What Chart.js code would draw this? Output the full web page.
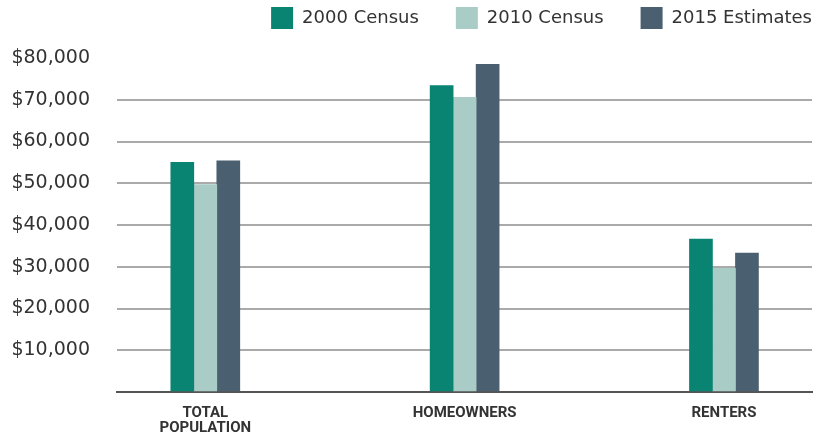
<!DOCTYPE html>
<html>
<head>
<meta charset="utf-8">
<script src="https://cdn.jsdelivr.net/npm/chart.js@4"></script>
<style>
  html, body { margin: 0; padding: 0; background: #fff; }
  #wrap { width: 825px; height: 436px; }
</style>
</head>
<body>
<div id="wrap"><canvas id="incomeChart"></canvas></div>
<script>
// data
const categories = [['TOTAL', 'POPULATION'], 'HOMEOWNERS', 'RENTERS'];
const seriesNames = ['2000 Census', '2010 Census', '2015 Estimates'];
const census2000 = [55000, 73400, 36600];
const census2010 = [49700, 70600, 29600];
const estimates2015 = [55400, 78500, 33300];
const yTicks = [0, 10000, 20000, 30000, 40000, 50000, 60000, 70000, 80000];

const colors = ['#0a8472', '#a9ccc6', '#4a5f70'];

// bars sit on a linear x axis so the groups can be placed off-centre like the original
const toPoints = arr => arr.map((v, i) => ({ x: i, y: v }));
const X_MIN = -0.3405, X_MAX = 2.3395;
const LEGEND_PAD = 37;

const incomeData = {
    datasets: [census2000, census2010, estimates2015].map((vals, i) => ({
        label: seriesNames[i],
        data: toPoints(vals),
        backgroundColor: colors[i],
        borderWidth: 0,
        barThickness: 23
    }))
};

// legend: fixed height, and pushed right so the last item ends at the plot edge
const legendFit = {
    id: 'legendFit',
    beforeInit(chart) {
        const fit = chart.legend.fit;
        chart.legend.fit = function () {
            fit.bind(chart.legend)();
            this.height = 88;
        };
    },
    afterLayout(chart) {
        chart.legend.right += LEGEND_PAD;
    }
};

const incomeConfig = {
    type: 'bar',
    data: incomeData,
    options: {
        responsive: true,
        maintainAspectRatio: false,
        animation: false,
        layout: {
            padding: { top: -30, right: 13, bottom: 0, left: 0 }
        },
        scales: {
            x: {
                type: 'linear',
                offset: false,
                bounds: 'data',
                min: X_MIN,
                max: X_MAX,
                afterFit: scale => { scale.height = 44; },
                afterDataLimits: scale => {
                    scale.min = X_MIN;
                    scale.max = X_MAX;
                },
                afterBuildTicks: scale => {
                    scale.ticks = categories.map((c, i) => ({ value: i }));
                    scale.min = X_MIN;
                    scale.max = X_MAX;
                },
                grid: { display: false, offset: false },
                border: { display: true, color: '#555555', width: 2 },
                ticks: {
                    autoSkip: false,
                    maxRotation: 0,
                    padding: 6,
                    color: '#333333',
                    font: { family: 'Roboto, "Liberation Sans", sans-serif', size: 15, weight: 'bold', lineHeight: 1.0 },
                    callback: value => categories[value] ?? ''
                }
            },
            y: {
                min: 0,
                max: 80000,
                afterFit: scale => { scale.width = 117; },
                afterBuildTicks: scale => {
                    scale.ticks = yTicks.map(v => ({ value: v }));
                },
                border: { display: false },
                grid: {
                    drawTicks: false,
                    lineWidth: 2,
                    color: ctx => (ctx.tick && (ctx.tick.value === 0 || ctx.tick.value === 80000)) ? 'rgba(0,0,0,0)' : '#aaaaaa'
                },
                ticks: {
                    padding: 27,
                    color: '#333333',
                    font: { family: '"DejaVu Sans", sans-serif', size: 19 },
                    callback: value => value === 0 ? '' : '$' + value.toLocaleString('en-US')
                }
            }
        },
        plugins: {
            legend: {
                display: true,
                position: 'top',
                align: 'end',
                labels: {
                    boxWidth: 22,
                    boxHeight: 22,
                    padding: LEGEND_PAD,
                    color: '#333333',
                    font: { family: '"DejaVu Sans", sans-serif', size: 18 }
                }
            },
            tooltip: { enabled: false }
        }
    },
    plugins: [legendFit]
};

const incomeChart = new Chart(document.querySelector('#incomeChart'), incomeConfig);
</script>
</body>
</html>
